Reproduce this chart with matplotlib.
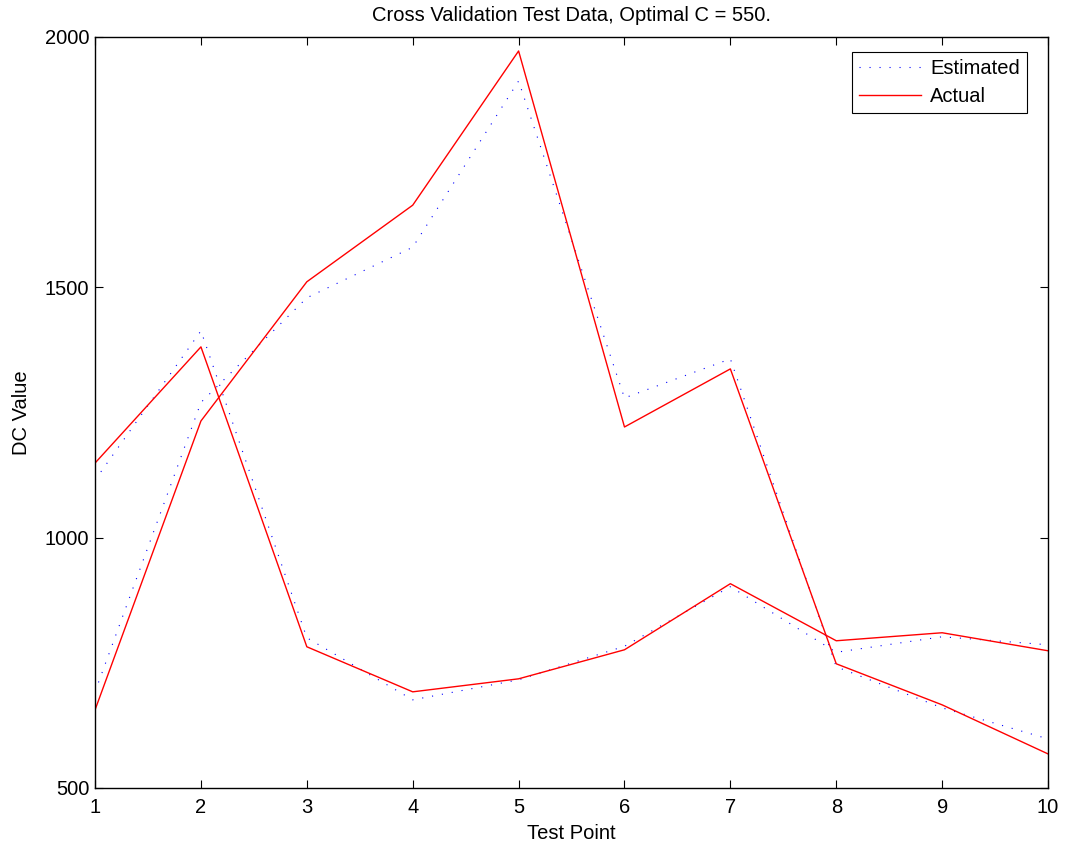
import matplotlib
matplotlib.use("Agg")
import matplotlib.pyplot as plt

plt.rcParams["font.family"] = ["Liberation Sans", "DejaVu Sans"]

# Test points
test_point = [1, 2, 3, 4, 5, 6, 7, 8, 9, 10]

# first set of test points
est_a = [1115, 1413, 800, 676, 716, 783, 902, 771, 802, 786]
act_a = [1149, 1381, 782, 692, 718, 776, 908, 794, 810, 774]

# second set of test points
est_b = [692, 1270, 1479, 1580, 1912, 1279, 1357, 742, 660, 598]
act_b = [656, 1233, 1511, 1664, 1972, 1221, 1337, 748, 666, 568]

fs = 14.5

fig = plt.figure(figsize=(10.68, 8.44), dpi=100)
ax = fig.add_axes([0.089, 0.0664, 0.8923, 0.8898])

ax.plot(test_point, est_a, color="blue", linestyle=(0, (1, 8)), lw=0.8, label="Estimated")
ax.plot(test_point, act_a, color="red", lw=1.0, label="Actual")
ax.plot(test_point, est_b, color="blue", linestyle=(0, (1, 8)), lw=0.8)
ax.plot(test_point, act_b, color="red", lw=1.0)

ax.set_xlim(1, 10)
ax.set_ylim(500, 2000)
ax.set_xticks(test_point)
ax.set_yticks([500, 1000, 1500, 2000])

ax.tick_params(direction="in", top=True, right=True, length=6, width=0.8,
               labelsize=fs)
ax.tick_params(axis="x", pad=7.5)
ax.tick_params(axis="y", pad=4)
for s in ax.spines.values():
    s.set_linewidth(1.0)

ax.set_title("Cross Validation Test Data, Optimal C = 550.", fontsize=fs, pad=11.5)
ax.set_xlabel("Test Point", fontsize=fs, labelpad=4.5)
ax.set_ylabel("DC Value", fontsize=fs, labelpad=10)

leg = ax.legend(loc="upper right", bbox_to_anchor=(0.978, 0.980), borderaxespad=0,
                fontsize=fs, fancybox=False, framealpha=1, edgecolor="black",
                handlelength=3.1, handletextpad=0.45, borderpad=0.35,
                labelspacing=0.45)
leg.get_frame().set_linewidth(0.8)

fig.savefig("out.png", dpi=100)
